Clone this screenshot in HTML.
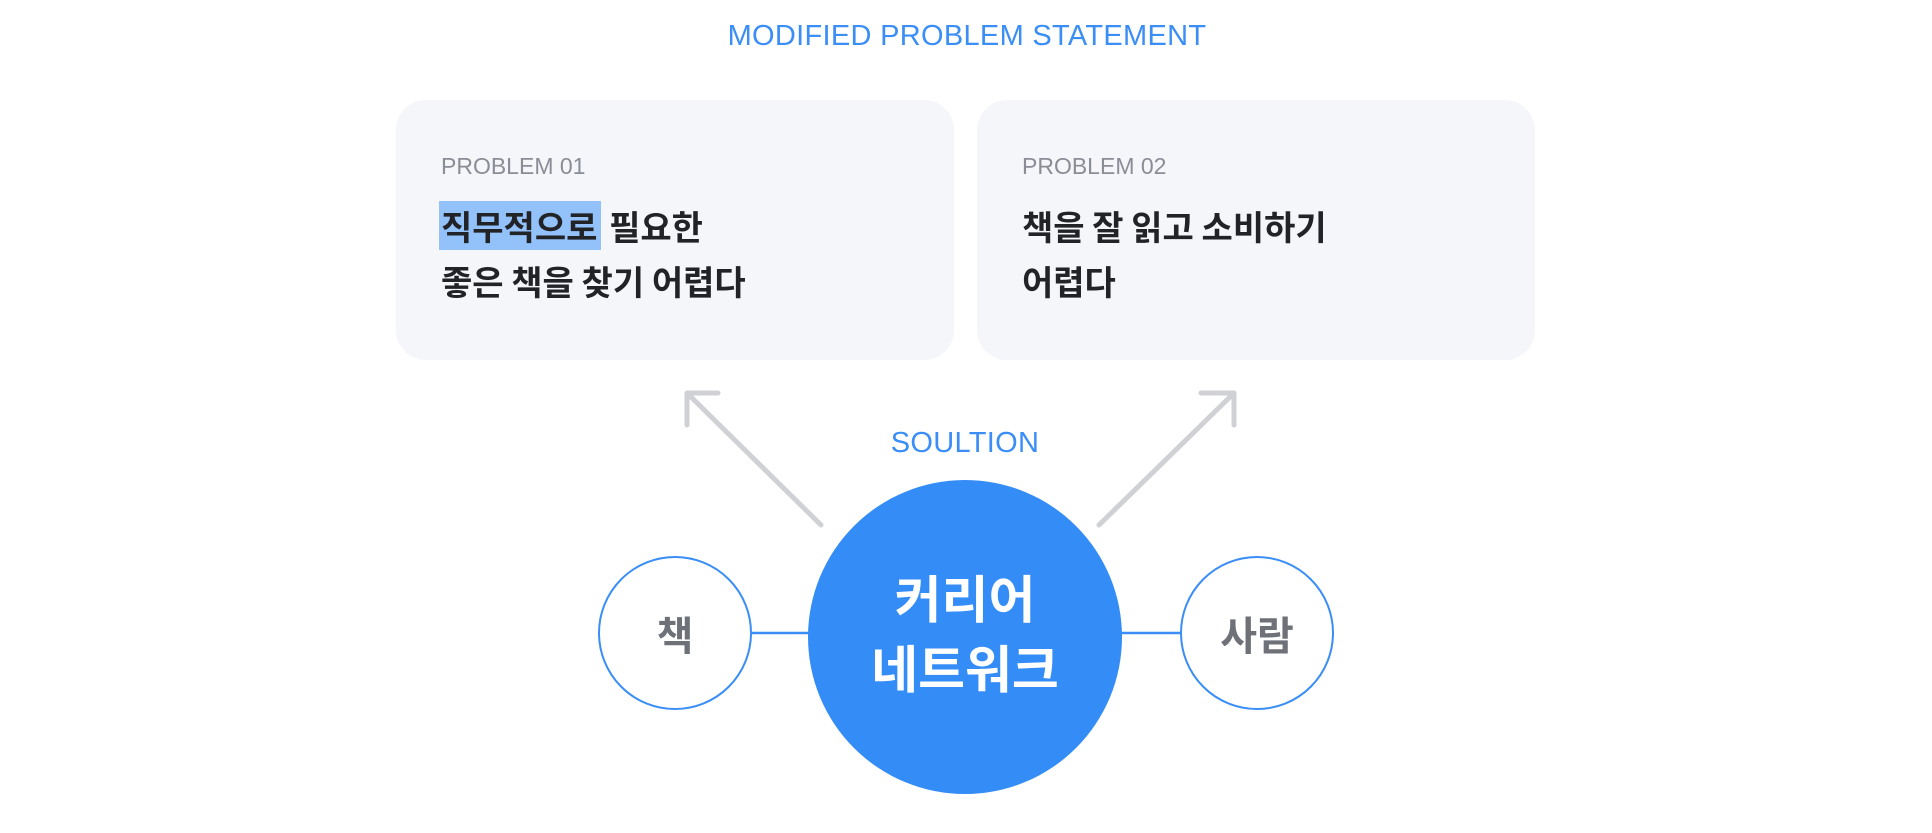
<!DOCTYPE html>
<html><head><meta charset="utf-8"><style>
body{margin:0;width:1932px;height:833px;background:#fff;position:relative;overflow:hidden;font-family:"Liberation Sans","Noto Sans CJK KR",sans-serif}
.a{position:absolute}
.t{color:#3a8ef6;font-size:29px;text-align:center;width:600px;letter-spacing:0.3px}
.card{background:#f5f6fa;border-radius:30px;top:100px;height:260px;width:558px}
.lab{color:#8a8d96;font-size:23px}
.k{font-weight:bold;font-size:34px;color:#222327;line-height:55px;font-family:"Noto Sans CJK KR",sans-serif}
.hl{background:#93c2fb;padding:0 4px 0 2px;margin-left:-2px}
.c{border:2.5px solid #3a8ef6;border-radius:50%;width:150px;height:150px;box-sizing:content-box;display:flex;align-items:center;justify-content:center;font-family:"Noto Sans CJK KR",sans-serif;font-weight:bold;font-size:40px;color:#6f7179;background:#fff}
</style></head><body>
<div class="a t" style="left:667px;top:20px">MODIFIED PROBLEM STATEMENT</div>
<div class="a card" style="left:396px"></div>
<div class="a card" style="left:977px"></div>
<div class="a lab" style="left:441px;top:153px">PROBLEM 01</div>
<div class="a lab" style="left:1022px;top:153px">PROBLEM 02</div>
<div class="a k" style="left:441px;top:198px"><span class="hl">직무적으로</span> 필요한<br>좋은 책을 찾기 어렵다</div>
<div class="a k" style="left:1022px;top:198px">책을 잘 읽고 소비하기<br>어렵다</div>
<div class="a t" style="left:665px;top:427px">SOULTION</div>
<svg class="a" style="left:0;top:0" width="1932" height="833">
<g stroke="#d0d1d5" stroke-width="5" fill="none" stroke-linecap="round" stroke-linejoin="round">
<line x1="821" y1="525" x2="689" y2="395"/><polyline points="718,393 687,393 687,425"/>
<line x1="1099" y1="525" x2="1232" y2="395"/><polyline points="1201,393 1234,393 1234,425"/>
</g>
<g stroke="#3a8ef6" stroke-width="2.5"><line x1="752" y1="633" x2="815" y2="633"/><line x1="1120" y1="633" x2="1183" y2="633"/></g>
<circle cx="965" cy="637" r="157" fill="#348cf7"/>
</svg>
<div class="a c" style="left:598px;top:556px">책</div>
<div class="a c" style="left:1180px;top:556px">사람</div>
<div class="a" style="left:815px;top:561px;width:300px;text-align:center;color:#fff;font-weight:bold;font-size:51px;line-height:70px;font-family:'Noto Sans CJK KR',sans-serif">커리어<br>네트워크</div>
</body></html>
